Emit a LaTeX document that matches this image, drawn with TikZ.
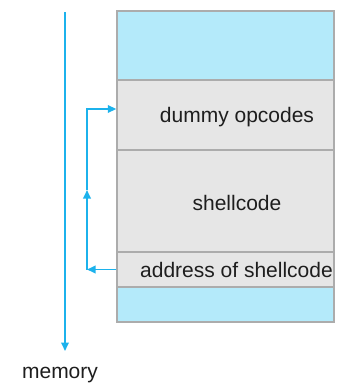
\documentclass[tikz,border=0pt]{standalone}
\usepackage{fontspec}
\setmainfont{Liberation Sans}
\usetikzlibrary{arrows.meta}
\definecolor{cellblue}{RGB}{180,234,250}
\definecolor{cellgray}{RGB}{230,230,230}
\definecolor{cellline}{RGB}{172,172,172}
\definecolor{arrowblue}{RGB}{28,178,236}
\definecolor{txt}{RGB}{30,30,30}
\tikzset{
  cell/.style={draw=cellline, line width=1.4pt, minimum width=217pt, inner sep=0pt},
  bluecell/.style={cell, fill=cellblue},
  graycell/.style={cell, fill=cellgray},
  celltext/.style={inner sep=0pt, text=txt, font=\fontsize{21}{24}\selectfont},
  flow/.style={draw=arrowblue, line width=1.8pt, -{Triangle[length=8.5pt,width=7.5pt]}},
}
\begin{document}
\begin{tikzpicture}[x=1pt,y=-1pt]
\useasboundingbox (0,0) rectangle (337,386);
\node[bluecell, minimum height=69pt] (top) at (225.5,45.5) {};
\node[graycell, minimum height=70pt] (dummy) at (225.5,115) {};
\node[graycell, minimum height=102pt] (shell) at (225.5,201) {};
\node[graycell, minimum height=35pt] (addr) at (225.5,269.5) {};
\node[bluecell, minimum height=35pt] (bottom) at (225.5,304.5) {};
\node[celltext] (dummytxt) at (237,117.5) {dummy opcodes};
\node[celltext] (shelltxt) at (237,203) {shellcode};
\node[celltext] (addrtxt) at (236.5,270) {address of shellcode};
\node[celltext] (memory) at (60,375) {memory};
\coordinate (mtop) at (65,12);
\coordinate (mbot) at (65,351);
\draw[flow] (mtop) -- (mbot);
\coordinate (c1) at (87,269.5);
\coordinate (c2) at (87,190);
\draw[flow] (addr.west) -- (c1);
\draw[flow] (c1) -- (c2);
\draw[flow] (c2) |- ([yshift=6pt]dummy.west);
\end{tikzpicture}
\end{document}
